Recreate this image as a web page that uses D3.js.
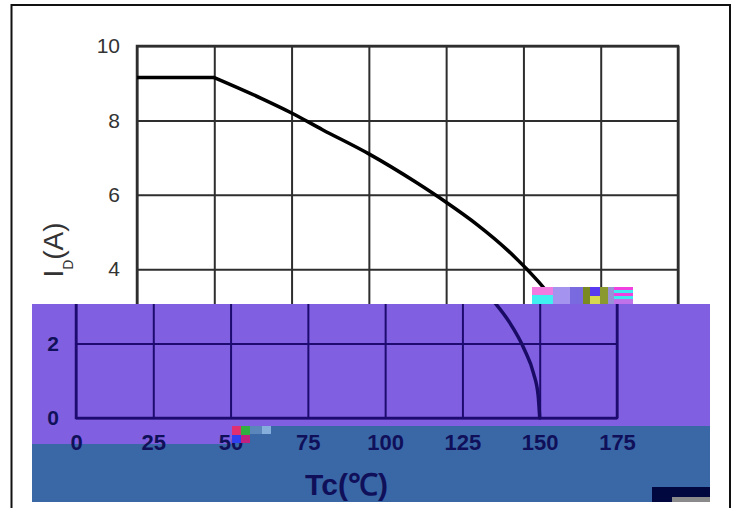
<!DOCTYPE html>
<html>
<head>
<meta charset="utf-8">
<script src="https://cdn.jsdelivr.net/npm/d3@7/dist/d3.min.js"></script>
<style>
  body { margin: 0; background: #fff; }
  svg { display: block; font-family: "Liberation Sans", Arial, sans-serif; }
</style>
</head>
<body>
<svg id="chart" width="734" height="508"></svg>
<script>
// derating curve: Tc (°C) -> ID (A)
const tc = [0, 25, 40, 50, 60, 75, 90, 100, 110, 120, 130, 135, 140, 145, 148, 149.5, 150];
const id = [9.15, 9.15, 8.6, 8.2, 7.75, 7.1, 6.35, 5.8, 5.2, 4.5, 3.65, 3.15, 2.6, 1.85, 1.2, 0.6, 0];
const xTicks = [0, 25, 50, 75, 100, 125, 150, 175];
const yTicks = [0, 2, 4, 6, 8, 10];

const points = tc.map((t, i) => ({ t, v: id[i] }));

const svg = d3.select("#chart");

const x = d3.scaleLinear().domain([0, 175]).range([137, 678]);
const y = d3.scaleLinear().domain([0, 10]).range([418, 46]);

// draws the plot (grid, curve, ticks) into g with the given colours
// style.yLabels filters which y tick labels get text, style.xText / style.yTitle toggle the rest
function drawPlot(g, style) {
    const w = x.range()[1] - x.range()[0];
    const h = y.range()[0] - y.range()[1];

    const yAxis = g.append("g")
        .attr("transform", `translate(${x(0)},0)`)
        .call(d3.axisLeft(y).tickValues(yTicks).tickSize(-w).tickPadding(17)
            .tickFormat(d => style.yLabels(d) ? d : ""));
    const xAxis = g.append("g")
        .attr("transform", `translate(0,${y(0)})`)
        .call(d3.axisBottom(x).tickValues(xTicks).tickSize(-h).tickPadding(16));

    [xAxis, yAxis].forEach(a => {
        a.select(".domain").remove();
        a.selectAll(".tick line").attr("stroke", style.grid).attr("stroke-width", 2);
    });
    yAxis.selectAll(".tick text")
        .filter(d => !style.yLabels(d)).remove();
    yAxis.selectAll(".tick text")
        .attr("fill", style.text)
        .style("font-size", "21px")
        .style("font-weight", style.weight);
    if (style.xText) {
        xAxis.selectAll(".tick text")
            .attr("fill", style.text)
            .style("font-size", "22px")
            .style("font-weight", style.weight);
    } else {
        xAxis.selectAll(".tick text").remove();
    }

    g.append("rect")
        .attr("x", x(0)).attr("y", y(10))
        .attr("width", w).attr("height", h)
        .attr("fill", "none")
        .attr("stroke", style.grid)
        .attr("stroke-width", 2.5);

    // flat part then the falling part
    g.append("path")
        .datum(points.slice(0, 2))
        .attr("fill", "none")
        .attr("stroke", style.curve)
        .attr("stroke-width", 3.5)
        .attr("d", d3.line().x(d => x(d.t)).y(d => y(d.v)));
    g.append("path")
        .datum(points.slice(1))
        .attr("fill", "none")
        .attr("stroke", style.curve)
        .attr("stroke-width", 3.5)
        .attr("stroke-linecap", "round")
        .attr("d", d3.line().x(d => x(d.t)).y(d => y(d.v)).curve(d3.curveMonotoneX));

    if (style.xText) {
        g.append("text")
            .attr("x", (x(0) + x(175)) / 2)
            .attr("y", 495)
            .attr("text-anchor", "middle")
            .attr("fill", style.text)
            .style("font-size", "30px")
            .style("font-weight", style.weight)
            .text("Tc(℃)");
    }

    if (style.yTitle) {
        const yl = g.append("text")
            .attr("transform", "translate(63,250) rotate(-90)")
            .attr("text-anchor", "middle")
            .attr("fill", style.text)
            .style("font-size", "28px");
        yl.append("tspan").text("I");
        yl.append("tspan").attr("dy", 10).style("font-size", "14px").text("D");
        yl.append("tspan").attr("dy", -10).text("(A)");
    }
}

svg.append("rect").attr("width", 734).attr("height", 508).attr("fill", "#fff");

// outer frame
svg.append("rect")
    .attr("x", 11.5).attr("y", 5)
    .attr("width", 718.5).attr("height", 530)
    .attr("fill", "none")
    .attr("stroke", "#111")
    .attr("stroke-width", 2);

// clean upper part (lower part gets covered by the band)
drawPlot(svg.append("g"), {
    grid: "#2e2e2e", text: "#333", curve: "#000", weight: "normal",
    yLabels: d => d >= 4, xText: false, yTitle: true
});

// corrupted lower band: shifted copy in purple / blue
svg.append("clipPath").attr("id", "band")
    .append("rect").attr("x", 32).attr("y", 304).attr("width", 678).attr("height", 198);

const band = svg.append("g").attr("clip-path", "url(#band)");
band.append("rect").attr("x", 32).attr("y", 304).attr("width", 678).attr("height", 140).attr("fill", "#8060e0");
band.append("path")
    .attr("d", "M232,426H710V502H32V444H232Z")
    .attr("fill", "#3a67a6");

drawPlot(band.append("g").attr("transform", "translate(-61,0)"), {
    grid: "#1e0b70", text: "#10105a", curve: "#1a0c66", weight: "bold",
    yLabels: d => d <= 2, xText: true, yTitle: false
});

// block noise
const blocks = [
    [232, 426, 9, 9, "#e03070"], [241, 426, 9, 9, "#30b040"], [232, 435, 9, 8, "#3040f0"], [241, 435, 9, 8, "#c02080"],
    [250, 426, 12, 8, "#5a86bc"], [262, 426, 9, 8, "#86aedc"],
    [532, 287, 21, 8, "#f07ae0"], [532, 295, 21, 9, "#40f0f0"], [553, 287, 17, 17, "#a494f0"],
    [570, 287, 13, 17, "#7a6ae0"], [583, 287, 7, 17, "#7a8a20"], [590, 287, 10, 9, "#5a3af0"],
    [590, 296, 10, 8, "#d8d850"], [600, 287, 8, 17, "#8a9a30"], [608, 287, 6, 17, "#9a92d8"],
    [614, 287, 19, 3, "#f040e0"], [614, 290, 19, 3, "#40e8f0"], [614, 293, 19, 3, "#f040e0"],
    [614, 296, 19, 3, "#40e8f0"], [614, 299, 19, 5, "#c070e8"]
];
svg.append("g").selectAll("rect")
    .data(blocks)
    .join("rect")
    .attr("x", d => d[0]).attr("y", d => d[1])
    .attr("width", d => d[2]).attr("height", d => d[3])
    .attr("fill", d => d[4]);

svg.append("rect").attr("x", 652).attr("y", 487).attr("width", 58).attr("height", 15).attr("fill", "#00083f");
svg.append("rect").attr("x", 672).attr("y", 497).attr("width", 38).attr("height", 5).attr("fill", "#8a8a8a");
</script>
</body>
</html>
